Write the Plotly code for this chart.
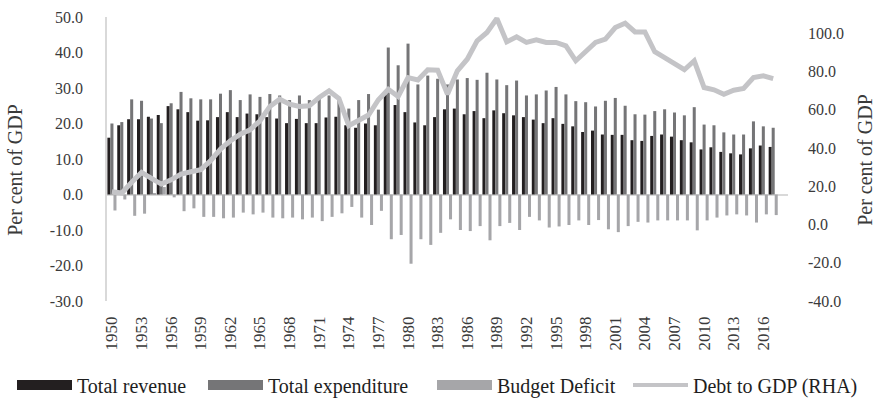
import plotly.graph_objects as go

years = [str(y) for y in range(1950, 2019)]

revenue = [16.0, 19.5, 21.2, 21.2, 21.9, 22.4, 24.9, 24.0, 23.2, 20.8,
           20.9, 21.8, 23.2, 21.8, 22.8, 22.6, 21.8, 21.4, 20.1, 21.3,
           20.1, 20.1, 21.7, 21.9, 19.5, 18.8, 20.0, 19.5, 28.2, 25.2,
           23.2, 20.3, 19.5, 21.8, 24.0, 24.2, 22.6, 23.5, 21.5, 23.7,
           22.9, 22.3, 21.8, 21.1, 20.1, 21.5, 19.9, 19.2, 17.6, 18.0,
           16.9, 16.8, 16.8, 15.3, 15.1, 16.5, 16.9, 16.3, 15.3, 14.7,
           12.7, 13.3, 12.0, 11.6, 11.3, 13.0, 13.8, 13.4, None]

expenditure = [20.0, 20.4, 26.8, 26.4, 21.4, 20.1, 25.7, 28.9, 27.1, 26.8,
               26.8, 28.4, 29.4, 26.6, 28.2, 27.5, 28.3, 27.9, 26.6, 27.9,
               26.6, 27.3, 27.9, 27.3, 24.2, 26.6, 28.3, 23.9, 41.4, 36.4,
               42.5, 31.0, 33.5, 32.6, 31.0, 32.4, 32.8, 32.3, 34.3, 32.4,
               30.8, 32.1, 27.9, 28.2, 29.3, 30.3, 28.2, 26.3, 26.0, 24.8,
               26.4, 27.2, 25.0, 22.6, 22.5, 23.5, 24.0, 23.1, 22.3, 24.6,
               19.7, 19.5, 17.5, 16.9, 16.9, 20.6, 19.2, 18.8, None]

deficit = [-4.5, -1.4, -6.0, -5.4, 0.4, 2.1, -0.8, -4.7, -3.9, -6.3,
           -6.3, -6.7, -6.5, -5.1, -5.6, -5.1, -6.5, -6.7, -6.5, -7.0,
           -6.5, -7.5, -6.3, -5.3, -3.5, -6.5, -8.6, -4.6, -12.6, -11.4,
           -19.5, -12.6, -14.2, -10.8, -7.0, -10.0, -10.3, -8.9, -12.9, -8.9,
           -8.0, -10.0, -6.3, -7.3, -9.3, -9.0, -8.6, -7.3, -8.6, -7.2,
           -9.8, -10.6, -8.9, -7.7, -7.9, -7.3, -7.3, -7.3, -7.3, -10.1,
           -7.3, -6.5, -5.9, -5.6, -5.9, -7.9, -5.6, -5.8, None]

debt = [17.2, 16.5, 22.1, 27.3, 24.2, 21.2, 23.4, 26.4, 27.6, 28.7,
        33.4, 39.5, 43.8, 47.3, 49.6, 54.3, 61.8, 65.6, 63.0, 61.8,
        62.1, 66.5, 70.0, 66.0, 51.7, 54.3, 57.3, 65.3, 70.8, 67.0,
        76.9, 75.7, 81.0, 80.8, 68.2, 80.4, 86.5, 96.1, 100.5, 107.8,
        95.6, 98.2, 95.3, 96.6, 95.3, 95.3, 93.5, 85.7, 90.9, 95.3,
        97.0, 103.1, 105.4, 100.8, 100.8, 90.4, 87.4, 84.5, 81.0, 85.7,
        71.7, 70.5, 68.2, 70.3, 71.2, 76.9, 77.8, 76.4, None]

x_ticks = years[::3]
left_ticks = [-30, -20, -10, 0, 10, 20, 30, 40, 50]
right_ticks = [-40, -20, 0, 20, 40, 60, 80, 100]

names = ["Total revenue", "Total expenditure", "Budget Deficit", "Debt to GDP (RHA)"]
c_rev, c_exp, c_def, c_debt = "#231f20", "#757577", "#a6a6a9", "#c4c4c7"

FONT = "Liberation Serif"
TXT = "#3a3a3a"

fig = go.Figure()
for vals, col, nm in [(revenue, c_rev, names[0]), (expenditure, c_exp, names[1]), (deficit, c_def, names[2])]:
    fig.add_trace(go.Bar(x=years, y=vals, marker=dict(color=col, line=dict(width=0)),
                         name=nm, showlegend=False, yaxis="y"))
fig.add_trace(go.Scatter(x=years, y=debt, mode="lines", line=dict(color=c_debt, width=5),
                         name=names[3], showlegend=False, yaxis="y2"))

# legend entries, one legend each so they sit where the reference puts them
legend_ids = ["legend", "legend2", "legend3", "legend4"]
legend_starts = [17, 208, 437, 633]
for col, nm, w, lid in zip([c_rev, c_exp, c_def, c_debt], names, [10, 10, 10, 4], legend_ids):
    fig.add_trace(go.Scatter(x=[None], y=[None], mode="lines", line=dict(color=col, width=w),
                             name=nm, showlegend=True, yaxis="y", legend=lid))

legend_common = dict(orientation="h", xref="container", yref="container",
                     xanchor="left", y=0.04, yanchor="middle",
                     font=dict(family=FONT, size=20, color="#1e1e1e"), itemwidth=55,
                     bgcolor="rgba(0,0,0,0)", borderwidth=0)
legend_layout = {lid: dict(legend_common, x=(s - 5) / 880) for lid, s in zip(legend_ids, legend_starts)}

fig.update_layout(
    template="none",
    width=880, height=401,
    margin=dict(l=107, r=92, t=17, b=100, autoexpand=False),
    paper_bgcolor="white", plot_bgcolor="white",
    barmode="group", bargap=0.08, bargroupgap=0,
    font=dict(family=FONT, size=16, color=TXT),
    showlegend=True,
    xaxis=dict(type="category", tickmode="array", tickvals=x_ticks, ticktext=x_ticks,
               tickangle=-90, showline=False, showgrid=False, zeroline=False, ticks="",
               automargin=False,
               ticklabelstandoff=11, tickfont=dict(family=FONT, size=17, color=TXT)),
    yaxis=dict(range=[-30, 50], tickmode="array", tickvals=left_ticks,
               ticktext=[f"{v:.1f}" for v in left_ticks],
               showgrid=False, zeroline=True, zerolinecolor="#d9d9d9", zerolinewidth=1.5,
               showline=True, linecolor="#d9d9d9", linewidth=1.5, ticks="",
               automargin=False,
               ticklabelstandoff=19, tickfont=dict(family=FONT, size=16, color=TXT)),
    yaxis2=dict(range=[-40, 108.6], overlaying="y", side="right", tickmode="array",
                tickvals=right_ticks, ticktext=[f"{v:.1f}" for v in right_ticks],
                showgrid=False, zeroline=False, showline=False, ticks="",
                automargin=False,
                ticklabelstandoff=19, tickfont=dict(family=FONT, size=16, color=TXT)),
    annotations=[
        dict(text="Per cent of GDP", textangle=-90, xref="paper", yref="paper",
             x=(15 - 107) / 681, y=0.462, xanchor="center", yanchor="middle",
             showarrow=False, font=dict(family=FONT, size=20, color=TXT)),
        dict(text="Per cent of GDP", textangle=-90, xref="paper", yref="paper",
             x=(865 - 107) / 681, y=0.497, xanchor="center", yanchor="middle",
             showarrow=False, font=dict(family=FONT, size=20, color=TXT)),
    ],
    **legend_layout,
)

fig.write_html("out.html", config={"displayModeBar": False},
               post_script="document.body.style.margin='0';document.body.style.padding='0';")
